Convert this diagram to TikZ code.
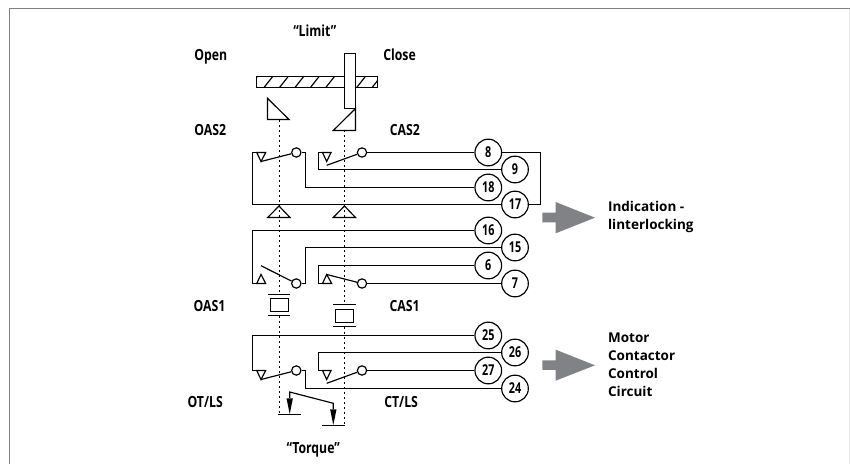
\documentclass[tikz,border=0pt]{standalone}
\usepackage{fontspec}
\setmainfont{Open Sans}
\newfontfamily\narrowsans[FakeStretch=0.8]{Open Sans}
\newfontfamily\slimsans[FakeStretch=0.72]{Open Sans}

\tikzset{
  wire/.style={line width=0.7pt},
  frameline/.style={line width=0.75pt,color={rgb, 255:red, 128; green, 128; blue, 128}},
  axisline/.style={line width=0.7pt,dash pattern=on 1.5pt off 1.5pt},
  contact/.style={circle,draw,fill=white,line width=0.7pt,inner sep=0pt,minimum size=5.6pt},
  terminal/.style={circle,draw,fill=white,line width=0.7pt,inner sep=0pt,minimum size=16pt,
    font=\slimsans\bfseries\fontsize{9}{9}\selectfont},
  tag/.style={inner sep=0.75pt,anchor=west,text height=7pt,text depth=0pt,
    font=\narrowsans\bfseries\fontsize{9.2}{10.8}\selectfont},
  note/.style={inner sep=0.75pt,anchor=west,align=left,
    font=\bfseries\fontsize{8.1}{10.8}\selectfont},
  bigarrow/.style={fill={rgb, 255:red, 128; green, 130; blue, 133},draw=none}
}

\begin{document}
\begin{tikzpicture}[x=0.60pt,y=0.60pt,yscale=-1,xscale=1]
	\useasboundingbox (0,0) rectangle (850,464);

	%Frame
	\draw [color={rgb, 255:red, 232; green, 232; blue, 232}] (849.5,8.5) -- (849.5,464);
	\draw [frameline] (850,8.5) -- (9.5,8.5) -- (9.5,464);

	%Dashed Lines
	\draw [axisline] (279.5,120) -- (279.5,294);
	\draw [axisline] (279.5,316) -- (279.5,414);
	\draw [axisline] (344.5,130) -- (344.5,304.5);
	\draw [axisline] (344.5,327) -- (344.5,425);

	%Shape: Hatched Bar
	\draw [wire] (256.5,76.5) rectangle (377.5,87.5);
	\begin{scope}
		\clip (256.5,76.5) rectangle (377.5,87.5);
		\foreach \hatchx in {248.6,264,279.5,295,310.4,325.8,356.7,372.1}
			\draw [wire] (\hatchx,87.5) -- (\hatchx+8.7,76.5);
	\end{scope}
	\draw [wire,fill=white] (344.5,53.5) rectangle (355.5,108.5);

	%Shape: Cam Triangles
	\draw [wire] (267.5,98.3) -- (267.5,119.5) -- (289,119.5) -- cycle;
	\draw [wire] (355.5,108.5) -- (355.5,130.5) -- (333.3,130.5) -- cycle;
	\draw [wire] (267.7,217.5) -- (290,217.5) -- (279,206) -- cycle;
	\draw [wire] (333.3,217.5) -- (355.5,217.5) -- (344.5,206) -- cycle;

	%Shape: Plungers
	\draw [wire] (267.7,294.5) -- (290,294.5);
	\draw [wire] (270.5,298.5) rectangle (288.5,311.5);
	\draw [wire] (267.7,315.5) -- (290,315.5);
	\draw [wire] (333.3,304.5) -- (355.5,304.5);
	\draw [wire] (335.5,309.5) rectangle (353.5,322.5);
	\draw [wire] (333.3,326.5) -- (355.5,326.5);

	%Shape: Contact Triangles
	\draw [wire] (256.7,152.5) -- (265.7,152.5) -- (261,161.5) -- cycle;
	\draw [wire] (322.5,152.5) -- (331,152.5) -- (326.7,161.5) -- cycle;
	\draw [wire] (256.7,283.5) -- (265.7,283.5) -- (261,274.5) -- cycle;
	\draw [wire] (322.5,283.5) -- (331.7,283.5) -- (326.7,274.5) -- cycle;
	\draw [wire] (256.7,370.5) -- (265.7,370.5) -- (261,379.5) -- cycle;
	\draw [wire] (322.5,370.5) -- (331,370.5) -- (326.7,379.5) -- cycle;

	%Switch Contacts
	\node (oasa) [contact] at (296.3,152.5) {};
	\node (casa) [contact] at (362,152.5) {};
	\node (oasb) [contact] at (296.3,283.5) {};
	\node (casb) [contact] at (362,283.5) {};
	\node (otls) [contact] at (296.3,370.5) {};
	\node (ctls) [contact] at (362,370.5) {};

	%Terminals
	\node (t8) [terminal] at (488.3,152.5) {8};
	\node (t9) [terminal] at (515,169.5) {9};
	\node (t18) [terminal] at (488.3,187.5) {18};
	\node (t17) [terminal] at (515,204.5) {17};
	\node (t16) [terminal] at (488.3,230.5) {16};
	\node (t15) [terminal] at (515,247.5) {15};
	\node (t6) [terminal] at (488.3,265.5) {6};
	\node (t7) [terminal] at (515,283.5) {7};
	\node (t25) [terminal] at (488.3,335.5) {25};
	\node (t26) [terminal] at (515,352.5) {26};
	\node (t27) [terminal] at (488.3,370.5) {27};
	\node (t24) [terminal] at (515,388.5) {24};

	%Wire Corners
	\coordinate (sa) at (256.7,152.5);
	\coordinate (ka) at (252.5,152.5);
	\coordinate (sb) at (322.5,152.5);
	\coordinate (kb) at (318.5,152.5);
	\coordinate (sc) at (305.5,152.5);
	\coordinate (kd) at (540.5,204.5);
	\coordinate (se) at (256.7,283.5);
	\coordinate (ke) at (252.5,283.5);
	\coordinate (sf) at (322.5,283.5);
	\coordinate (kf) at (318.5,283.5);
	\coordinate (sg) at (305.5,283.5);
	\coordinate (sh) at (256.7,370.5);
	\coordinate (kh) at (252.5,370.5);
	\coordinate (si) at (322.5,370.5);
	\coordinate (ki) at (318.5,370.5);
	\coordinate (sj) at (305.5,370.5);

	%Straight Lines
	\draw [wire] (casa) -- (t8);
	\draw [wire] (t8) -| (kd) -- (t17);
	\draw [wire] (t9) -| (kb) -- (sb);
	\draw [wire] (t18) -| (sc) -- (oasa);
	\draw [wire] (t17) -| (ka) -- (sa);
	\draw [wire] (t16) -| (ke) -- (se);
	\draw [wire] (t15) -| (sg) -- (oasb);
	\draw [wire] (t6) -| (kf) -- (sf);
	\draw [wire] (casb) -- (t7);
	\draw [wire] (t25) -| (kh) -- (sh);
	\draw [wire] (t26) -| (ki) -- (si);
	\draw [wire] (ctls) -- (t27);
	\draw [wire] (t24) -| (sj) -- (otls);

	%Switch Blades
	\coordinate (ba) at (261,161.5);
	\coordinate (bb) at (326.7,165.3);
	\coordinate (bc) at (261,265.7);
	\coordinate (bd) at (326.7,274.5);
	\coordinate (be) at (261,379.5);
	\coordinate (bf) at (326.7,383.3);
	\draw [wire] (ba) -- (oasa);
	\draw [wire] (bb) -- (casa);
	\draw [wire] (bc) -- (oasb);
	\draw [wire] (bd) -- (casb);
	\draw [wire] (be) -- (otls);
	\draw [wire] (bf) -- (ctls);

	%Torque Levers
	\draw [wire] (278.3,414.5) -- (301,414.5);
	\draw [wire] (322.3,425.5) -- (344.5,425.5);
	\draw [wire] (289.7,398) -- (289.7,392) -- (333.3,403.3) -- (333.3,409);
	\fill (286.5,398.3) -- (292.9,398.3) -- (289.7,414) -- cycle;
	\fill (330.1,409.3) -- (336.5,409.3) -- (333.3,425) -- cycle;

	%Shape: Grey Arrows
	\fill [bigarrow] (542.3,212.7) -- (555.7,212.7) -- (555.7,202) -- (595,217.7) -- (555.7,233.3) -- (555.7,222.3) -- (542.3,222.3) -- cycle;
	\fill [bigarrow] (542.3,360.3) -- (555.7,360.3) -- (555.7,349.7) -- (595,365.3) -- (555.7,380.7) -- (555.7,370) -- (542.3,370) -- cycle;

	% Text Node
	\node (limit) [tag] at (291.7,30.7) {“Limit”};
	\node (open) [tag] at (192.7,55) {Open};
	\node (close) [tag] at (381.7,55) {Close};
	\node (oastwo) [tag] at (192.7,130) {OAS2};
	\node (castwo) [tag] at (388.3,130) {CAS2};
	\node (oasone) [tag] at (192,305.5) {OAS1};
	\node (casone) [tag] at (388,305.5) {CAS1};
	\node (otlabel) [tag] at (186,401.7) {OT/LS};
	\node (ctlabel) [tag] at (382.7,401.7) {CT/LS};
	\node (torque) [tag] at (285,448) {“Torque”};
	\node (indication) [note] at (606.5,217) {Indication -\\linterlocking};
	\node (motor) [note] at (606.5,365) {Motor\\Contactor\\Control\\Circuit};
\end{tikzpicture}
\end{document}
